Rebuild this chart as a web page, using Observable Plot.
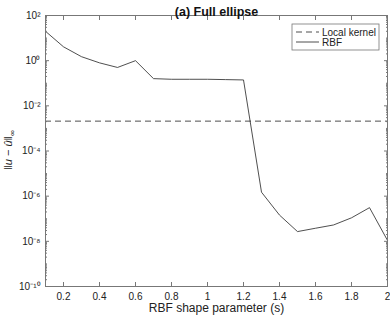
<!DOCTYPE html>
<html>
<head>
<meta charset="utf-8">
<script src="https://cdn.jsdelivr.net/npm/d3@7"></script>
<script src="https://cdn.jsdelivr.net/npm/@observablehq/plot@0.6"></script>
<style>
  html, body { margin: 0; padding: 0; background: #fff; }
  #chart { position: relative; width: 390px; height: 319px; }
</style>
</head>
<body>
<div id="chart"></div>
<script>
const s = [0.1, 0.2, 0.3, 0.4, 0.5, 0.6, 0.7, 0.8, 0.9, 1.0, 1.1, 1.2, 1.3, 1.4, 1.5, 1.6, 1.7, 1.8, 1.9, 2.0];
const rbf = [20, 4.1, 1.5, 0.8, 0.5, 1.0, 0.16, 0.15, 0.15, 0.15, 0.145, 0.14, 1.5e-6, 1.45e-7, 2.7e-8, 3.8e-8, 5.3e-8, 1.1e-7, 3.1e-7, 1.1e-8];
const localKernel = 2.1e-3;
const xTicks = [0.2, 0.4, 0.6, 0.8, 1, 1.2, 1.4, 1.6, 1.8, 2];
const yExponents = [-10, -8, -6, -4, -2, 0, 2];
const title = "(a) Full ellipse";
const xLabel = "RBF shape parameter (s)";
const legendLabels = ["Local kernel", "RBF"];

const supMap = {"-": "\u207B", "0": "\u2070", "1": "\u00B9", "2": "\u00B2", "3": "\u00B3", "4": "\u2074", "5": "\u2075", "6": "\u2076", "7": "\u2077", "8": "\u2078", "9": "\u2079"};
const sup = n => String(n).split("").map(c => supMap[c]).join("");

const yMajor = yExponents.map(e => Math.pow(10, e));
const yMinor = [];
for (let e = -10; e < 2; e++) for (let k = 1; k <= 9; k++) {
  const v = k * Math.pow(10, e);
  if (!(k === 1 && e % 2 === 0)) yMinor.push(v);
}
const data = s.map((x, i) => ({x, y: rbf[i]}));

const axisColor = "#777";
const font = "'Liberation Sans', Arial, Helvetica, sans-serif";

const chart = Plot.plot({
  width: 390,
  height: 319,
  marginLeft: 45,
  marginRight: 3,
  marginTop: 15,
  marginBottom: 33,
  style: {fontFamily: font, fontSize: "10px", color: "#222", background: "#fff"},
  x: {domain: [0.1, 2], label: null},
  y: {type: "log", domain: [1e-10, 1e2], label: null},
  marks: [
    Plot.ruleY([localKernel], {stroke: "#222", strokeWidth: 0.8, strokeDasharray: "6,4"}),
    Plot.line(data, {x: "x", y: "y", stroke: "#222", strokeWidth: 0.8}),
    Plot.frame({stroke: axisColor, strokeWidth: 1}),
    Plot.axisX(xTicks, {anchor: "bottom", tickSize: -4, stroke: axisColor, tickPadding: 10, fill: "#222", fontSize: 10, tickFormat: d => String(d)}),
    Plot.axisX(xTicks, {anchor: "top", tickSize: -4, stroke: axisColor, text: null}),
    Plot.axisY(yMajor, {anchor: "left", tickSize: -4, stroke: axisColor, tickPadding: 9, fill: "#222", fontSize: 10, tickFormat: d => "10" + sup(Math.round(Math.log10(d)))}),
    Plot.axisY(yMajor, {anchor: "right", tickSize: -4, stroke: axisColor, text: null}),
    Plot.axisY(yMinor, {anchor: "left", tickSize: -2, stroke: axisColor, text: null}),
    Plot.axisY(yMinor, {anchor: "right", tickSize: -2, stroke: axisColor, text: null}),
    Plot.text([title], {frameAnchor: "top", dy: -8, fontWeight: "bold", fontSize: 12.5, fill: "#111"}),
    Plot.text([xLabel], {frameAnchor: "bottom", dy: 25, fontSize: 12, fill: "#222"})
  ]
});
document.getElementById("chart").appendChild(chart);

const svg = d3.select(chart);
const ylab = svg.append("text")
  .attr("transform", "translate(12,150) rotate(-90)")
  .attr("text-anchor", "middle")
  .attr("font-family", font)
  .attr("font-size", 11)
  .attr("fill", "#222");
ylab.append("tspan").text("\u2016");
ylab.append("tspan").attr("font-style", "italic").text("u");
ylab.append("tspan").text(" \u2212 ");
ylab.append("tspan").attr("font-style", "italic").text("\u00FB");
ylab.append("tspan").text("\u2016");
ylab.append("tspan").attr("font-size", 8).attr("dy", 3).text("\u221E");

const lg = svg.append("g").attr("transform", "translate(292,24)");
lg.append("rect").attr("width", 87).attr("height", 26).attr("fill", "#fff").attr("stroke", axisColor).attr("stroke-width", 0.8);
lg.append("line").attr("x1", 4).attr("x2", 27).attr("y1", 8).attr("y2", 8).attr("stroke", "#222").attr("stroke-width", 0.8).attr("stroke-dasharray", "6,4");
lg.append("line").attr("x1", 4).attr("x2", 27).attr("y1", 18).attr("y2", 18).attr("stroke", "#222").attr("stroke-width", 0.8);
lg.selectAll("text.lab").data(legendLabels).join("text")
  .attr("class", "lab")
  .attr("x", 30).attr("y", (d, i) => 8 + i * 10)
  .attr("dy", "0.35em")
  .attr("text-anchor", "start")
  .attr("font-family", font).attr("font-size", 10).attr("fill", "#222")
  .text(d => d);
</script>
</body>
</html>
